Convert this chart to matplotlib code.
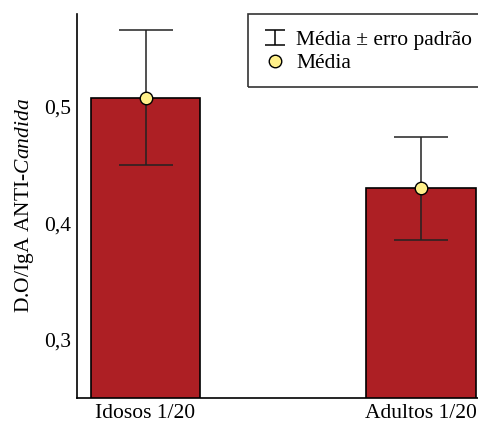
import matplotlib
matplotlib.use("Agg")
import matplotlib.pyplot as plt
from matplotlib.ticker import FuncFormatter
from matplotlib.patches import Rectangle
from matplotlib.legend_handler import HandlerErrorbar

plt.rcParams['font.family'] = ['Liberation Serif', 'DejaVu Serif']
plt.rcParams['mathtext.fontset'] = 'custom'
plt.rcParams['mathtext.rm'] = 'Liberation Serif'
plt.rcParams['mathtext.it'] = 'Liberation Serif:italic'

grupos = ['Idosos 1/20', 'Adultos 1/20']
media = [0.508, 0.430]
erro_sup = [0.566, 0.474]
erro_inf = [0.450, 0.386]
yticks = [0.3, 0.4, 0.5]

W, H = 478, 422
fig = plt.figure(figsize=(W / 100, H / 100), dpi=100)
ax = fig.add_axes([0.161, 0.057, 0.839, 0.910])

x = list(range(len(grupos)))
ax.bar(x, media, width=0.396, color='#AD1F24', edgecolor='black', linewidth=1.2, zorder=1)

yerr = [[m - lo for m, lo in zip(media, erro_inf)], [hi - m for m, hi in zip(media, erro_sup)]]
ax.errorbar(x, media, yerr=yerr, fmt='none', ecolor='#222222', elinewidth=1.1,
            capsize=19.5, capthick=1.1, zorder=2)
pt, = ax.plot(x, media, 'o', markersize=9, markerfacecolor='#FFF08A', markeredgecolor='black',
              markeredgewidth=1.0, linestyle='none', zorder=3)

ax.set_xlim(-0.249, 1.207)
ax.set_ylim(0.25, 0.58)
ax.set_yticks(yticks)
ax.yaxis.set_major_formatter(FuncFormatter(lambda v, p: ('%.1f' % v).replace('.', ',')))
ax.set_xticks(x)
ax.set_xticklabels(grupos)
ax.tick_params(axis='both', length=0, labelsize=15.5, pad=4)
ax.set_ylabel('D.O/IgA ANTI-$\\mathit{Candida}$', fontsize=15.5, labelpad=6)

for s in ['top', 'right']:
    ax.spines[s].set_visible(False)
for s in ['left', 'bottom']:
    ax.spines[s].set_linewidth(1.2)

# legend handle: errorbar drawn outside the visible range, only used for the key
h_err = ax.errorbar([5], [0.5], yerr=[0.05], fmt='none', ecolor='black', elinewidth=1.1,
                    capsize=7, capthick=1.1)
leg = ax.legend([h_err, pt], ['Média ± erro padrão', 'Média'], loc='upper left',
                bbox_to_anchor=(263 / W, 1 - 30 / H), bbox_transform=fig.transFigure,
                frameon=False, fontsize=15.5, handlelength=1.1, handletextpad=0.45,
                borderpad=0.0, borderaxespad=0.0, labelspacing=0.15,
                handler_map={type(h_err): HandlerErrorbar(yerr_size=0.33)})

fig.add_artist(Rectangle((248 / W, 1 - 87 / H), 260 / W, 73 / H, transform=fig.transFigure,
                         facecolor='none', edgecolor='#333333', linewidth=1.2))

fig.savefig('out.png', dpi=100)
